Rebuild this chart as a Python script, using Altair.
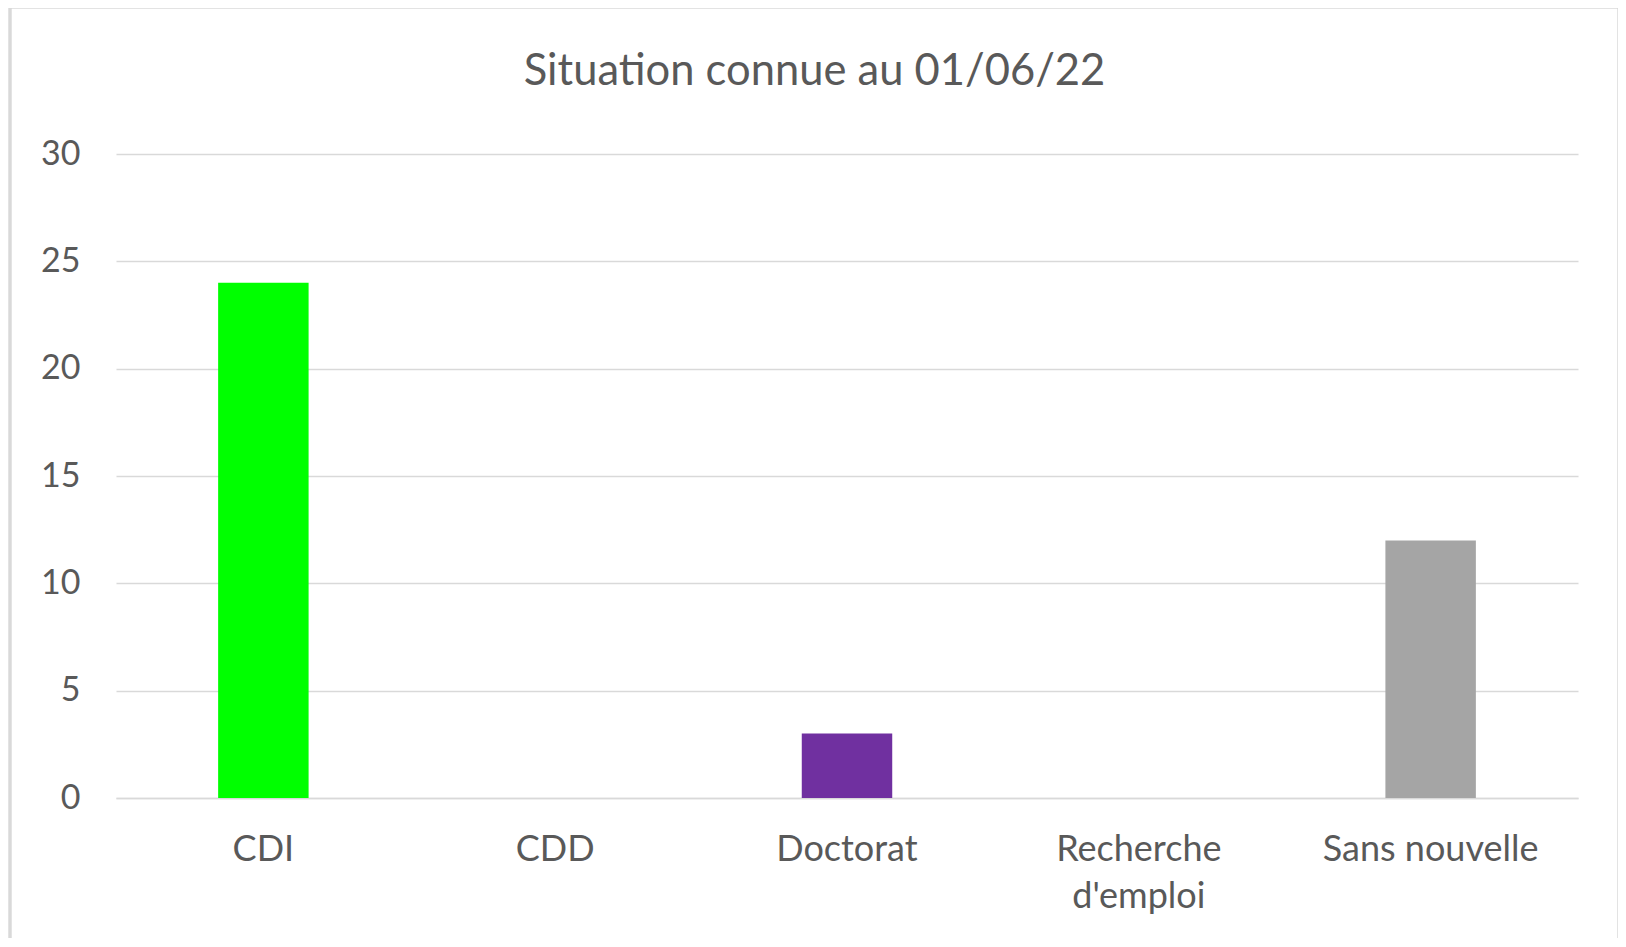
import altair as alt
import pandas as pd

categories = ["CDI", "CDD", "Doctorat", "Recherche d'emploi", "Sans nouvelle"]
values = [24, 0, 3, 0, 12]
colors = ["#00FF00", "#00B0F0", "#7030A0", "#FFC000", "#A5A5A5"]

df = pd.DataFrame({"cat": categories, "val": values})

TXT = "#595959"
GRID = "#D9D9D9"
FONT = "Lato"

bars = alt.Chart(df).mark_bar().encode(
    x=alt.X("cat:N", sort=categories, title=None,
            scale=alt.Scale(paddingInner=0.69, paddingOuter=0.35),
            axis=alt.Axis(labelAngle=0, labelFontSize=36, labelColor=TXT, labelFont=FONT,
                          labelPadding=34, ticks=False, domainColor=GRID, domainWidth=1.5,
                          labelLineHeight=47, labelLimit=500, grid=False,
                          labelExpr="datum.value == \"Recherche d'emploi\" ? ['Recherche', \"d'emploi\"] : datum.value")),
    y=alt.Y("val:Q", title=None,
            scale=alt.Scale(domain=[0, 30], nice=False),
            axis=alt.Axis(values=[0, 5, 10, 15, 20, 25, 30], labelFontSize=34, labelColor=TXT,
                          labelFont=FONT, labelPadding=36, ticks=False, domain=False,
                          gridColor=GRID, gridWidth=1.5)),
    color=alt.Color("cat:N", sort=categories, legend=None,
                    scale=alt.Scale(domain=categories, range=colors)),
)

border = alt.Chart(df).mark_rect(fill=None, stroke="#D9D9D9", strokeWidth=2.5, clip=False).encode(
    x=alt.value(-106), x2=alt.value(1503), y=alt.value(-147), y2=alt.value(790)
)

chart = alt.layer(border, bars).properties(
    width=1462, height=644,
    title=alt.TitleParams("Situation connue au 01/06/22", fontSize=43.5, font=FONT, color=TXT,
                          fontWeight="normal", anchor="middle", frame="bounds", offset=-89),
    autosize=alt.AutoSizeParams(type="none"),
    padding={"left": 108, "top": 146, "right": 40, "bottom": 140},
    view=alt.ViewBackground(stroke="transparent", strokeWidth=0),
).configure_view(strokeWidth=0, stroke="transparent").configure(background="white")

chart.save("out.html", embed_options={"renderer": "svg", "actions": False})
